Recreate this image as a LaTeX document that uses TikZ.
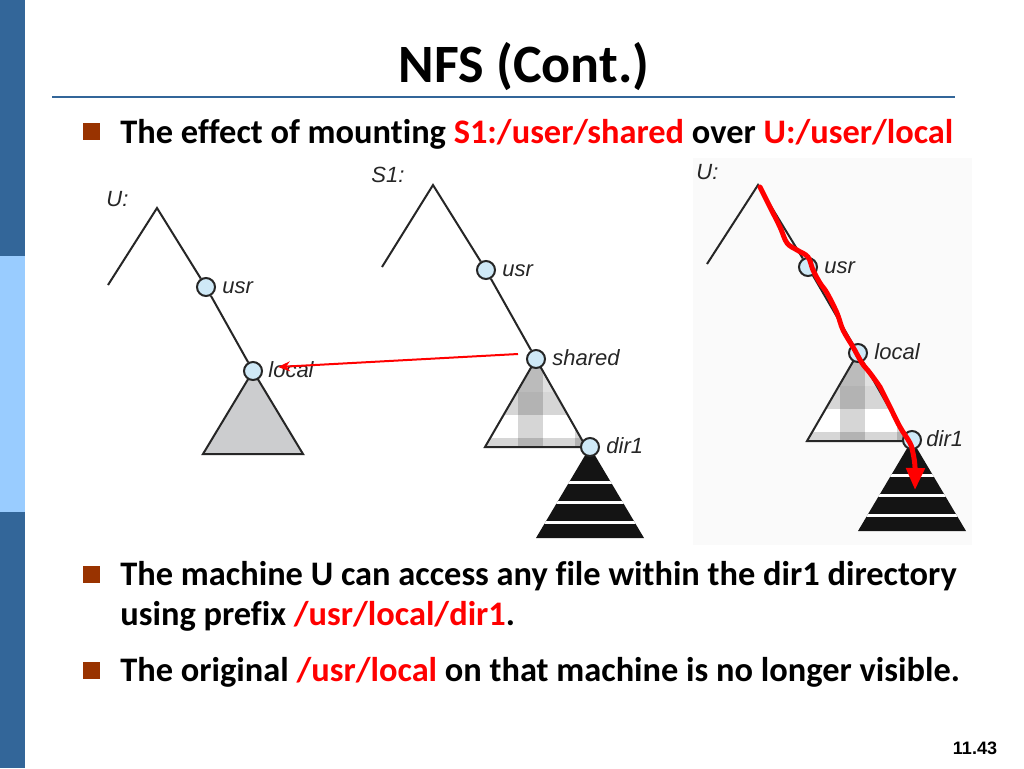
\documentclass[tikz,border=0pt]{standalone}
\usepackage{fontspec}
\setmainfont{Carlito}[Ligatures=NoCommon]
\newfontfamily\labfont{Liberation Sans}
\usetikzlibrary{arrows.meta}
\definecolor{sidedark}{HTML}{336699}
\definecolor{sidelight}{HTML}{99CCFF}
\definecolor{bulletc}{HTML}{993300}
\definecolor{hotred}{HTML}{FF0000}
\definecolor{nodefill}{HTML}{CFE9F7}
\definecolor{trigray}{HTML}{CCCDCF}
\newcommand\checkertri{%
  \begin{scope}
    \clip (0,0) -- (-51,88) -- (50,88) -- cycle;
    \fill[white] (-60,0) rectangle (60,90);
    \fill[black,opacity=.12] (-60,0) rectangle (60,33);
    \fill[black,opacity=.16] (-60,33) rectangle (60,56);
    \fill[black,opacity=.16] (-60,79) rectangle (60,90);
    \fill[black,opacity=.16] (-18,0) rectangle (7,90);
    \fill[black,opacity=.16] (39,0) rectangle (64,90);
  \end{scope}
  \draw[branch] (0,0) -- (-51,88) -- (50,88) -- cycle;}
\newcommand\stripetri{%
  \begin{scope}
    \clip (0,0) -- (-54,91) -- (54,91) -- cycle;
    \fill[black!92] (-60,0) rectangle (60,92);
    \foreach \yy in {35,55,75} \draw[white,line width=1.5pt] (-60,\yy) -- (60,\yy);
  \end{scope}}
\begin{document}
\begin{tikzpicture}[x=0.5pt,y=-0.5pt,
  dirnode/.style={circle,draw=black!85,line width=1pt,fill=nodefill,minimum size=9pt,inner sep=0pt},
  branch/.style={line width=1pt,draw=black!85,line join=miter},
  lbl/.style={font=\labfont\itshape\fontsize{11}{13}\selectfont,anchor=base west,inner sep=0pt,text=black!85},
  bodytext/.style={font=\bfseries\fontsize{17.2}{20}\selectfont,anchor=base west,inner sep=0pt},
  titletext/.style={font=\bfseries\fontsize{27}{30}\selectfont,anchor=base,inner sep=0pt},
  bulletsq/.style={fill=bulletc,draw=none,minimum size=8.5pt,inner sep=0pt},
  pagenum/.style={font=\labfont\bfseries\fontsize{9}{11}\selectfont,anchor=base,inner sep=0pt}]
\useasboundingbox (0,0) rectangle (1024,768);
\fill[white] (0,0) rectangle (1024,768);
% sidebar
\fill[sidedark] (0,0) rectangle (25,256);
\fill[sidelight] (0,256) rectangle (25,512);
\fill[sidedark] (0,512) rectangle (25,768);
% title
\node[titletext] (title) at (524,82) {NFS (Cont.)};
\draw[sidedark,line width=1pt] (52,97) -- (955,97);
% bullets
\node[bulletsq] (b1) at (91.5,131.5) {};
\node[bulletsq] (b2) at (91.5,574.5) {};
\node[bulletsq] (b3) at (91.5,670.5) {};
\node[bodytext] (t1) at (120,143) {The effect of mounting \textcolor{hotred}{S1:/user/shared} over \textcolor{hotred}{U:/user/local}};
\node[bodytext] (t2a) at (120,585) {The machine U can access any file within the dir1 directory};
\node[bodytext] (t2b) at (120,625) {using prefix \textcolor{hotred}{/usr/local/dir1}.};
\node[bodytext] (t3) at (120,681) {The original \textcolor{hotred}{/usr/local} on that machine is no longer visible.};
\node[pagenum] (pg) at (975,754) {11.43};

% ---------- left tree (U:) ----------
\node[lbl] (uL) at (106,206) {U:};
\coordinate (apexL) at (157,208);
\coordinate (leftL) at (108,285);
\fill[trigray] (253,371) -- (203,454) -- (303,454) -- cycle;
\draw[branch] (253,371) -- (203,454) -- (303,454) -- cycle;
\node[dirnode] (usrL) at (206,287) {};
\node[dirnode] (localL) at (253,371) {};
\draw[branch] (leftL) -- (apexL) -- (usrL);
\draw[branch] (usrL) -- (localL);
\node[lbl] (usrLl) at (222,293) {usr};
\node[lbl] (localLl) at (268,377) {local};

% ---------- middle tree (S1:) ----------
\node[lbl] (sM) at (371,182) {S1:};
\coordinate (apexM) at (433,185);
\coordinate (leftM) at (382,267);
\begin{scope}[shift={(536,359)}]\checkertri\end{scope}
\begin{scope}[shift={(590,447)}]\stripetri\end{scope}
\node[dirnode] (usrM) at (486,270) {};
\node[dirnode] (sharedM) at (536,359) {};
\node[dirnode] (dirM) at (590,447) {};
\draw[branch] (leftM) -- (apexM) -- (usrM);
\draw[branch] (usrM) -- (sharedM);
\node[lbl] (usrMl) at (502,276) {usr};
\node[lbl] (sharedMl) at (552,365) {shared};
\node[lbl] (dirMl) at (606,453) {dir1};

% mount arrow
\coordinate (mstart) at (518,354);
\coordinate (mend) at (278,367);
\draw[hotred,line width=1pt,-{Stealth[length=6pt,width=5pt]}] (mstart) -- (mend);

% ---------- right tree (U: after mount) ----------
\fill[gray!4] (693,158) rectangle (972,545);
\node[lbl] (uR) at (696,179) {U:};
\coordinate (apexR) at (758,185);
\coordinate (leftR) at (707,264);
\begin{scope}[shift={(858,353)}]\checkertri\end{scope}
\begin{scope}[shift={(912,440)}]\stripetri\end{scope}
\node[dirnode] (usrR) at (808,267) {};
\node[dirnode] (localR) at (858,353) {};
\node[dirnode] (dirR) at (912,440) {};
\draw[branch] (leftR) -- (apexR) -- (usrR);
\draw[branch] (usrR) -- (localR);
\node[lbl] (usrRl) at (824,273) {usr};
\node[lbl] (localRl) at (874,359) {local};
\node[lbl] (dirRl) at (926,446) {dir1};

% path arrow
\coordinate (ptip) at (915,490);
\draw[hotred,line width=2.5pt,line cap=round,line join=round,-{Triangle[length=11pt,width=9pt]}]
  plot[smooth,tension=0.6] coordinates {(760,187) (770,207) (780,227) (787,243) (797,250) (808,257) (813,270) (820,283) (827,293) (837,313) (843,330) (853,347) (862,363) (870,373) (880,387) (883,393) (890,407) (900,427) (910,443) (913,453) (915,467) (915,490)};
\end{tikzpicture}
\end{document}
